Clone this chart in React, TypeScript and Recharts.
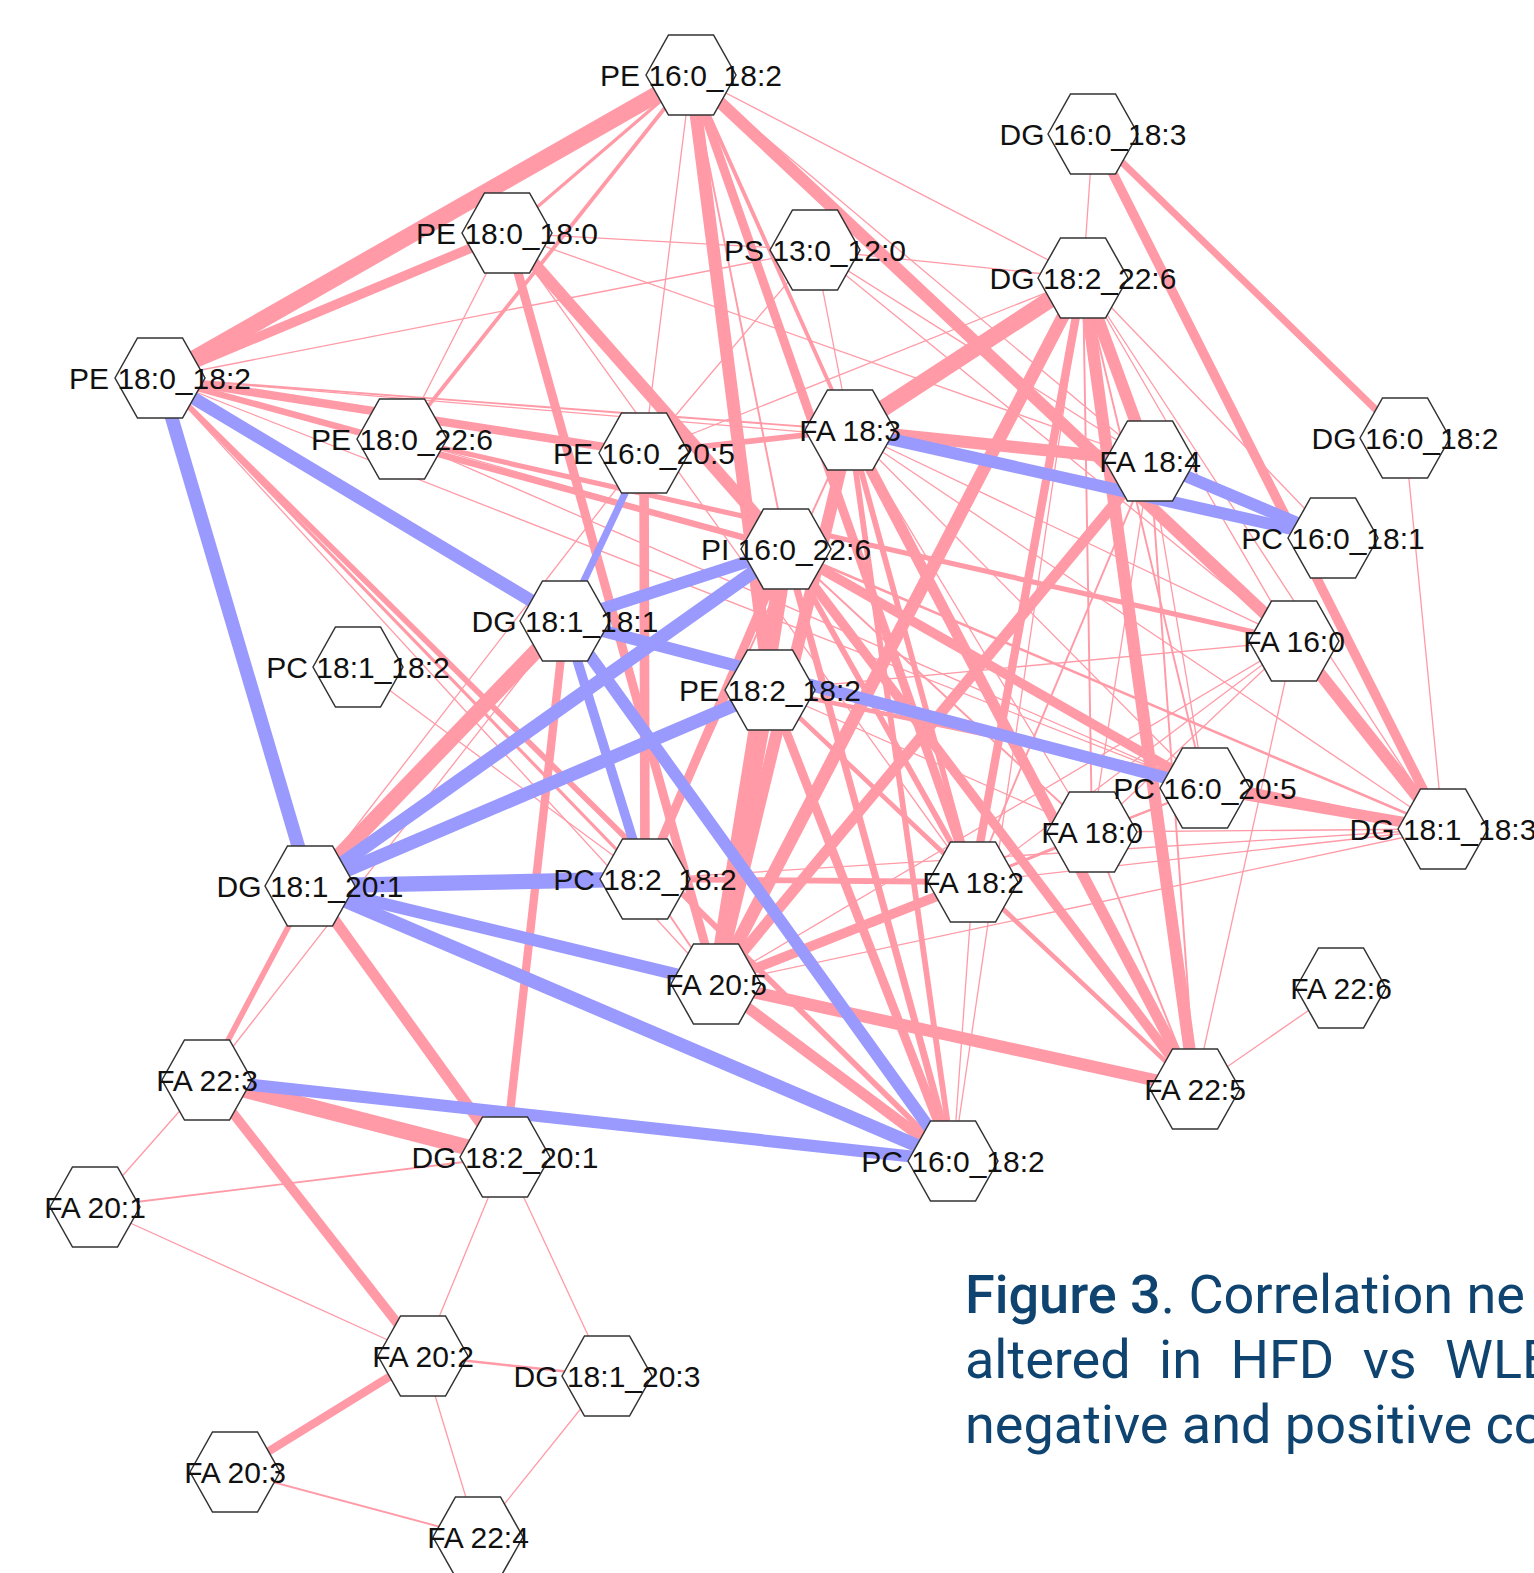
import { ScatterChart, Scatter, XAxis, YAxis } from 'recharts';

const W = 1534;
const H = 1573;

const POS = '#FF9AA6';
const NEG = '#9A9AFE';

// lipid species and where each sits in the layout (px in a W x H frame)
const nodeNames = [
  'PE 16:0_18:2', 'DG 16:0_18:3', 'PE 18:0_18:0', 'PS 13:0_12:0', 'DG 18:2_22:6',
  'PE 18:0_18:2', 'PE 18:0_22:6', 'PE 16:0_20:5', 'FA 18:3', 'FA 18:4',
  'DG 16:0_18:2', 'PC 16:0_18:1', 'PI 16:0_22:6', 'DG 18:1_18:1', 'FA 16:0',
  'PC 18:1_18:2', 'PE 18:2_18:2', 'PC 16:0_20:5', 'FA 18:0', 'DG 18:1_18:3',
  'DG 18:1_20:1', 'PC 18:2_18:2', 'FA 18:2', 'FA 20:5', 'FA 22:6',
  'FA 22:3', 'FA 22:5', 'DG 18:2_20:1', 'PC 16:0_18:2', 'FA 20:1',
  'FA 20:2', 'DG 18:1_20:3', 'FA 20:3', 'FA 22:4',
];
const nodeX = [
  691, 1093, 507, 815, 1083,
  160, 402, 644, 850, 1150,
  1405, 1333, 786, 565, 1294,
  358, 770, 1205, 1092, 1443,
  310, 645, 973, 716, 1341,
  207, 1195, 505, 953, 95,
  423, 607, 235, 478,
];
const nodeY = [
  75, 134, 233, 250, 278,
  378, 439, 453, 430, 461,
  438, 538, 549, 621, 641,
  667, 690, 788, 832, 829,
  886, 879, 882, 984, 988,
  1080, 1089, 1157, 1161, 1207,
  1356, 1376, 1472, 1537,
];

// pairwise correlations (r); sign picks the colour, |r| the stroke width
const edgeFrom = [
  'PE 16:0_18:2', 'PE 16:0_18:2', 'PE 16:0_18:2', 'PE 16:0_18:2', 'PE 16:0_18:2',
  'PE 16:0_18:2', 'PE 16:0_18:2', 'PE 16:0_18:2', 'PE 16:0_18:2', 'PE 16:0_18:2',
  'PE 16:0_18:2', 'PE 18:0_18:0', 'PE 18:0_18:0', 'PE 18:0_18:0', 'PE 18:0_18:0',
  'PE 18:0_18:0', 'PE 18:0_18:0', 'PE 18:0_18:0', 'PS 13:0_12:0', 'PS 13:0_12:0',
  'PS 13:0_12:0', 'PS 13:0_12:0', 'PS 13:0_12:0', 'PS 13:0_12:0', 'PE 18:0_18:2',
  'PE 18:0_18:2', 'PE 18:0_18:2', 'PE 18:0_18:2', 'PE 18:0_18:2', 'PE 18:0_18:2',
  'PE 18:0_18:2', 'PE 18:0_22:6', 'PE 16:0_20:5', 'PE 16:0_20:5', 'PE 16:0_20:5',
  'FA 18:3', 'FA 18:3', 'FA 18:3', 'FA 18:3', 'FA 18:3',
  'FA 18:3', 'FA 18:3', 'FA 18:3', 'FA 18:3', 'FA 18:3',
  'FA 18:3', 'DG 18:2_22:6', 'DG 18:2_22:6', 'DG 18:2_22:6', 'DG 18:2_22:6',
  'DG 18:2_22:6', 'DG 18:2_22:6', 'DG 18:2_22:6', 'DG 18:2_22:6', 'DG 18:2_22:6',
  'DG 18:2_22:6', 'DG 18:2_22:6', 'DG 16:0_18:3', 'DG 16:0_18:3', 'DG 16:0_18:2',
  'FA 18:4', 'FA 18:4', 'FA 18:4', 'FA 18:4', 'FA 18:4',
  'FA 16:0', 'FA 16:0', 'FA 16:0', 'FA 16:0', 'FA 16:0',
  'FA 16:0', 'PC 16:0_20:5', 'PC 16:0_20:5', 'PC 16:0_20:5', 'PC 16:0_20:5',
  'PI 16:0_22:6', 'PI 16:0_22:6', 'PI 16:0_22:6', 'PI 16:0_22:6', 'PI 16:0_22:6',
  'PI 16:0_22:6', 'PI 16:0_22:6', 'PI 16:0_22:6', 'PE 18:2_18:2', 'PE 18:2_18:2',
  'PE 18:2_18:2', 'PE 18:2_18:2', 'PE 18:2_18:2', 'PE 18:2_18:2', 'PC 18:2_18:2',
  'PC 18:2_18:2', 'PC 18:2_18:2', 'FA 18:2', 'FA 18:2', 'FA 18:2',
  'FA 18:2', 'FA 20:5', 'FA 20:5', 'FA 20:5', 'FA 20:5',
  'FA 18:0', 'FA 18:0', 'FA 22:6', 'PC 16:0_18:2', 'DG 18:1_18:1',
  'DG 18:1_18:1', 'DG 18:1_20:1', 'DG 18:1_20:1', 'FA 22:3', 'FA 22:3',
  'FA 22:3', 'FA 22:3', 'FA 20:1', 'FA 20:1', 'DG 18:2_20:1',
  'DG 18:2_20:1', 'FA 20:2', 'FA 20:2', 'FA 20:2', 'FA 20:3',
  'DG 18:1_20:3', 'PC 18:1_18:2', 'DG 18:1_20:1', 'PE 18:0_18:2', 'PE 18:0_22:6',
  'PE 18:0_22:6',
  // negative
  'PE 18:0_18:2', 'PE 18:0_18:2', 'DG 18:1_18:1', 'DG 18:1_18:1', 'DG 18:1_18:1',
  'DG 18:1_18:1', 'DG 18:1_18:1', 'DG 18:1_20:1', 'DG 18:1_20:1', 'DG 18:1_20:1',
  'DG 18:1_20:1', 'DG 18:1_20:1', 'FA 22:3', 'FA 18:3', 'FA 18:4',
];
const edgeTo = [
  'PE 18:0_18:2', 'PE 18:0_18:0', 'PE 18:0_22:6', 'PE 16:0_20:5', 'PE 18:2_18:2',
  'PI 16:0_22:6', 'FA 18:3', 'FA 16:0', 'DG 18:2_22:6', 'FA 18:2',
  'FA 18:4', 'PE 18:0_18:2', 'PS 13:0_12:0', 'PE 18:0_22:6', 'FA 20:5',
  'PI 16:0_22:6', 'FA 18:4', 'FA 18:2', 'PE 18:0_18:2', 'DG 18:2_22:6',
  'PE 16:0_20:5', 'FA 18:3', 'FA 18:4', 'FA 16:0', 'PE 16:0_20:5',
  'PI 16:0_22:6', 'FA 18:3', 'PC 18:2_18:2', 'FA 20:5', 'PC 16:0_18:2',
  'FA 18:4', 'PI 16:0_22:6', 'FA 18:3', 'PC 18:2_18:2', 'DG 18:2_22:6',
  'DG 18:2_22:6', 'FA 18:4', 'FA 20:5', 'FA 22:5', 'FA 18:2',
  'PC 16:0_18:2', 'FA 16:0', 'PC 16:0_20:5', 'DG 18:1_18:3', 'FA 18:0',
  'PC 18:2_18:2', 'DG 16:0_18:3', 'FA 18:4', 'FA 20:5', 'FA 22:5',
  'FA 18:2', 'FA 18:0', 'PC 16:0_18:1', 'FA 16:0', 'DG 18:1_18:3',
  'PC 16:0_20:5', 'PC 16:0_18:2', 'DG 18:1_18:3', 'DG 16:0_18:2', 'DG 18:1_18:3',
  'FA 20:5', 'FA 18:2', 'FA 22:5', 'PC 16:0_20:5', 'FA 18:0',
  'DG 18:1_18:3', 'FA 18:2', 'FA 20:5', 'FA 18:0', 'FA 22:5',
  'PE 18:2_18:2', 'DG 18:1_18:3', 'FA 18:2', 'FA 20:5', 'FA 18:0',
  'PC 16:0_20:5', 'FA 22:5', 'FA 20:5', 'PC 16:0_18:2', 'FA 18:2',
  'PC 18:2_18:2', 'DG 18:1_18:3', 'FA 18:0', 'FA 20:5', 'PC 16:0_18:2',
  'FA 22:5', 'FA 18:2', 'DG 18:1_18:3', 'FA 18:0', 'FA 18:2',
  'FA 20:5', 'DG 18:1_18:3', 'FA 20:5', 'FA 22:5', 'DG 18:1_18:3',
  'FA 18:0', 'FA 22:5', 'PC 16:0_18:2', 'DG 18:1_18:3', 'FA 18:0',
  'FA 22:5', 'DG 18:1_18:3', 'FA 22:5', 'FA 18:2', 'DG 18:1_20:1',
  'DG 18:2_20:1', 'DG 18:2_20:1', 'FA 22:3', 'DG 18:1_18:1', 'DG 18:2_20:1',
  'FA 20:2', 'FA 20:1', 'DG 18:2_20:1', 'FA 20:2', 'FA 20:2',
  'DG 18:1_20:3', 'DG 18:1_20:3', 'FA 20:3', 'FA 22:4', 'FA 22:4',
  'FA 22:4', 'PC 18:2_18:2', 'PE 16:0_20:5', 'PC 16:0_20:5', 'FA 16:0',
  'PC 16:0_20:5',
  // negative
  'DG 18:1_20:1', 'DG 18:1_18:1', 'PE 16:0_20:5', 'PI 16:0_22:6', 'PC 18:2_18:2',
  'PC 16:0_18:2', 'PC 16:0_20:5', 'PI 16:0_22:6', 'PE 18:2_18:2', 'PC 18:2_18:2',
  'FA 20:5', 'PC 16:0_18:2', 'PC 16:0_18:2', 'PC 16:0_18:1', 'PC 16:0_18:1',
];
const edgeR = [
  0.97, 0.76, 0.77, 0.73, 0.91,
  0.74, 0.77, 0.9, 0.73, 0.85,
  0.73, 0.86, 0.73, 0.73, 0.85,
  0.9, 0.73, 0.73, 0.73, 0.73,
  0.73, 0.73, 0.73, 0.73, 0.84,
  0.81, 0.74, 0.76, 0.73, 0.8,
  0.73, 0.73, 0.8, 0.86, 0.73,
  0.97, 0.9, 0.9, 0.88, 0.8,
  0.8, 0.73, 0.73, 0.73, 0.73,
  0.74, 0.73, 0.9, 0.91, 0.9,
  0.84, 0.74, 0.73, 0.73, 0.73,
  0.74, 0.73, 0.86, 0.82, 0.73,
  0.88, 0.74, 0.74, 0.73, 0.73,
  0.9, 0.73, 0.73, 0.73, 0.73,
  0.73, 0.88, 0.73, 0.74, 0.73,
  0.86, 0.86, 0.97, 0.82, 0.8,
  0.85, 0.75, 0.74, 0.91, 0.85,
  0.78, 0.76, 0.78, 0.73, 0.8,
  0.74, 0.73, 0.86, 0.76, 0.73,
  0.73, 0.9, 0.88, 0.73, 0.73,
  0.74, 0.73, 0.73, 0.73, 0.95,
  0.84, 0.88, 0.8, 0.73, 0.96,
  0.86, 0.73, 0.74, 0.73, 0.73,
  0.73, 0.75, 0.84, 0.73, 0.74,
  0.73, 0.73, 0.73, 0.73, 0.79,
  0.73,
  // negative
  -0.92, -0.91, -0.82, -0.9, -0.86,
  -0.9, -0.9, -0.92, -0.92, -0.95,
  -0.9, -0.92, -0.9, -0.9, -0.9,
];

const nodes = nodeNames.map((name, i) => ({ name, x: nodeX[i], y: nodeY[i] }));
const byName = new Map(nodes.map((n) => [n.name, n]));

const edges = edgeFrom.map((a, i) => ({
  a: byName.get(a)!,
  b: byName.get(edgeTo[i])!,
  r: edgeR[i],
}));

const edgeWidth = (r: number) => Math.max(1.3, (Math.abs(r) - 0.71) * 64);

// flat-topped hexagon, 90 x 80
const HEX = [[-45, 0], [-22.5, -40], [22.5, -40], [45, 0], [22.5, 40], [-22.5, 40]];

function Hexagon(props: any) {
  const { cx, cy } = props;
  const pts = HEX.map(([dx, dy]) => `${cx + dx},${cy + dy}`).join(' ');
  return <polygon points={pts} fill="#ffffff" stroke="#333333" strokeWidth={1.5} />;
}

function NodeLabel(props: any) {
  const { cx, cy, payload } = props;
  return (
    <text
      x={cx}
      y={cy}
      textAnchor="middle"
      dominantBaseline="central"
      fontFamily="'Liberation Sans', Arial, sans-serif"
      fontSize={30}
      fill="#111111"
    >
      {payload.name}
    </text>
  );
}

const noDot = () => <g />;

export default function App() {
  const positive = edges.filter((e) => e.r > 0);
  const negative = edges.filter((e) => e.r < 0);
  return (
    <div
      style={{
        position: 'absolute',
        left: 0,
        top: 0,
        width: W,
        height: H,
        overflow: 'hidden',
        background: '#ffffff',
      }}
    >
      <ScatterChart width={W} height={H} margin={{ top: 0, right: 0, bottom: 0, left: 0 }}>
        <XAxis type="number" dataKey="x" domain={[0, W]} allowDataOverflow hide />
        <YAxis type="number" dataKey="y" domain={[0, H]} allowDataOverflow reversed hide />
        {positive.map((e, i) => (
          <Scatter
            key={`pos-${i}`}
            data={[e.a, e.b]}
            fill={POS}
            line={{ stroke: POS, strokeWidth: edgeWidth(e.r) }}
            shape={noDot}
            isAnimationActive={false}
          />
        ))}
        {negative.map((e, i) => (
          <Scatter
            key={`neg-${i}`}
            data={[e.a, e.b]}
            fill={NEG}
            line={{ stroke: NEG, strokeWidth: edgeWidth(e.r) }}
            shape={noDot}
            isAnimationActive={false}
          />
        ))}
        <Scatter data={nodes} shape={Hexagon} isAnimationActive={false} />
        <Scatter data={nodes} shape={NodeLabel} isAnimationActive={false} />
      </ScatterChart>
      <div
        style={{
          position: 'absolute',
          left: 965,
          top: 1262,
          width: 900,
          fontFamily: 'Roboto, sans-serif',
          fontSize: 54,
          lineHeight: '65px',
          color: '#0F4470',
          whiteSpace: 'nowrap',
        }}
      >
        <div>
          <span style={{ fontWeight: 500 }}>Figure 3</span>. Correlation ne
        </div>
        <div style={{ wordSpacing: 15 }}>altered in HFD vs WLE</div>
        <div>negative and positive co</div>
      </div>
    </div>
  );
}
